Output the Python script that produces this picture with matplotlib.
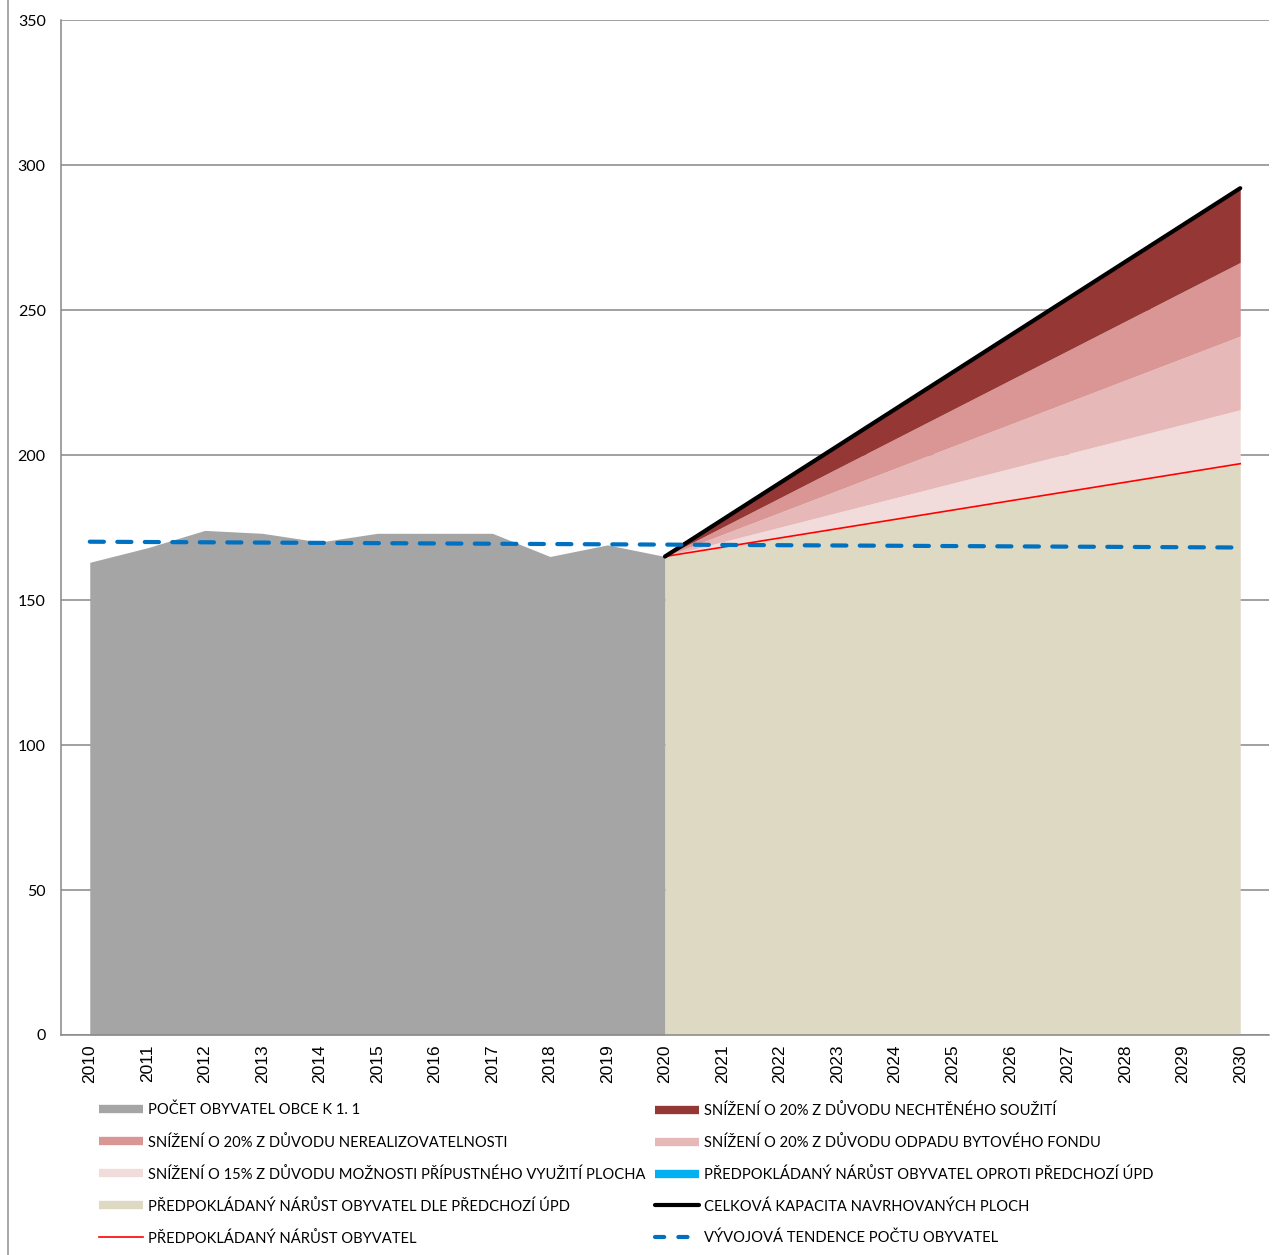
import matplotlib
matplotlib.use("Agg")
import matplotlib.pyplot as plt
from matplotlib.lines import Line2D
import numpy as np

# Population history (1 January of each year)
hist_years = [2010, 2011, 2012, 2013, 2014, 2015, 2016, 2017, 2018, 2019, 2020]
population = [163, 168, 174, 173, 170, 173, 173, 173, 165, 169, 165]

# Projection 2020 -> 2030
proj_years = [2020, 2030]
growth_prev_plan = [165, 197]        # growth according to previous plan (ÚPD)
growth_vs_prev_plan = [0, 0]         # growth compared to previous plan
cut_15_usage = [0, 18.6]             # 15 % reduction - permissible land use
cut_20_housing_loss = [0, 25.4]      # 20 % reduction - loss of housing stock
cut_20_unrealisable = [0, 25.4]      # 20 % reduction - unrealisability
cut_20_cohabitation = [0, 25.6]      # 20 % reduction - unwanted cohabitation
expected_growth = [165, 197]
total_capacity = [165, 292]

# Population trend line
trend_years = [2010, 2030]
trend = [170.1, 168.1]

all_years = list(range(2010, 2031))
y_ticks = [0, 50, 100, 150, 200, 250, 300, 350]

labels = {
    "pop": "POČET OBYVATEL OBCE K 1. 1",
    "c20a": "SNÍŽENÍ O 20% Z DŮVODU NECHTĚNÉHO SOUŽITÍ",
    "c20b": "SNÍŽENÍ O 20% Z DŮVODU NEREALIZOVATELNOSTI",
    "c20c": "SNÍŽENÍ O 20% Z DŮVODU ODPADU BYTOVÉHO FONDU",
    "c15": "SNÍŽENÍ O 15% Z DŮVODU MOŽNOSTI PŘÍPUSTNÉHO VYUŽITÍ PLOCHA",
    "vs": "PŘEDPOKLÁDANÝ NÁRŮST OBYVATEL OPROTI PŘEDCHOZÍ ÚPD",
    "upd": "PŘEDPOKLÁDANÝ NÁRŮST OBYVATEL DLE PŘEDCHOZÍ ÚPD",
    "cap": "CELKOVÁ KAPACITA NAVRHOVANÝCH PLOCH",
    "exp": "PŘEDPOKLÁDANÝ NÁRŮST OBYVATEL",
    "trend": "VÝVOJOVÁ TENDENCE POČTU OBYVATEL",
}

colors = {
    "pop": "#A5A5A5",
    "c20a": "#953735",
    "c20b": "#D99694",
    "c20c": "#E6B9B8",
    "c15": "#F2DCDB",
    "vs": "#00B0F0",
    "upd": "#DDD9C3",
    "cap": "#000000",
    "exp": "#FF0000",
    "trend": "#0070C0",
}

W, H = 1276, 1255
fig = plt.figure(figsize=(W / 100, H / 100), dpi=100)
ax = fig.add_axes([61 / W, 1 - 1035 / H, (1269 - 61) / W, (1035 - 20) / H])

# Historical population
ax.fill_between(hist_years, 0, population, color=colors["pop"], lw=0, zorder=2)

# Stacked projection areas
base = np.array(growth_prev_plan, dtype=float)
ax.fill_between(proj_years, 0, base, color=colors["upd"], lw=0, zorder=2)
stack = [("vs", growth_vs_prev_plan), ("c15", cut_15_usage),
         ("c20c", cut_20_housing_loss), ("c20b", cut_20_unrealisable),
         ("c20a", cut_20_cohabitation)]
for key, vals in stack:
    top = base + np.array(vals, dtype=float)
    ax.fill_between(proj_years, base, top, color=colors[key], lw=0, zorder=2)
    base = top

ax.plot(proj_years, expected_growth, color=colors["exp"], lw=1.2, zorder=4)
ax.plot(proj_years, total_capacity, color=colors["cap"], lw=3, zorder=4,
        solid_capstyle="round")
ax.plot(trend_years, trend, color=colors["trend"], lw=3, zorder=5,
        dashes=(3.4, 3.2), dash_capstyle="round")

# Axes styling
ax.set_xlim(2009.5, 2030.5)
ax.set_ylim(0, 350)
ax.set_yticks(y_ticks)
ax.set_xticks(all_years)
ax.set_xticklabels([str(y) for y in all_years], rotation=90,
                   fontfamily="Liberation Sans", fontsize=12.5)
ax.set_yticklabels([str(v) for v in y_ticks], fontfamily="Lato", fontsize=11.5)
ax.tick_params(axis="both", length=0, colors="#000000")
ax.tick_params(axis="y", pad=11)
ax.tick_params(axis="x", pad=7)
ax.grid(axis="y", color="#888888", lw=1.1, zorder=1)
ax.set_axisbelow(True)
for side in ("top", "right"):
    ax.spines[side].set_visible(False)
for side in ("left", "bottom"):
    ax.spines[side].set_color("#888888")
    ax.spines[side].set_linewidth(1.1)
    ax.spines[side].set_zorder(6)

# Outer border line on the left
fig.add_artist(Line2D([7.5 / W, 7.5 / W], [0, 1], color="#999999", lw=1.2))


def handle(key):
    if key == "exp":
        return Line2D([], [], color=colors[key], lw=1.2)
    if key == "cap":
        return Line2D([], [], color=colors[key], lw=3, solid_capstyle="round")
    if key == "trend":
        return Line2D([], [], color=colors[key], lw=3, dashes=(2.2, 3.4),
                      dash_capstyle="round")
    return Line2D([], [], color=colors[key], lw=6, solid_capstyle="butt")


left_keys = ["pop", "c20b", "c15", "upd", "exp"]
right_keys = ["c20a", "c20c", "vs", "cap", "trend"]
common = dict(frameon=False, handlelength=3.0, handletextpad=0.34,
              labelspacing=1.16, borderpad=0, borderaxespad=0,
              prop={"family": "Lato", "size": 10.6})
leg1 = fig.legend([handle(k) for k in left_keys], [labels[k] for k in left_keys],
                  loc="upper left", bbox_to_anchor=(99 / W, 1 - 1103 / H), **common)
leg2 = fig.legend([handle(k) for k in right_keys], [labels[k] for k in right_keys],
                  loc="upper left", bbox_to_anchor=(655 / W, 1 - 1103 / H), **common)

fig.savefig("out.png", dpi=100, facecolor="white")
